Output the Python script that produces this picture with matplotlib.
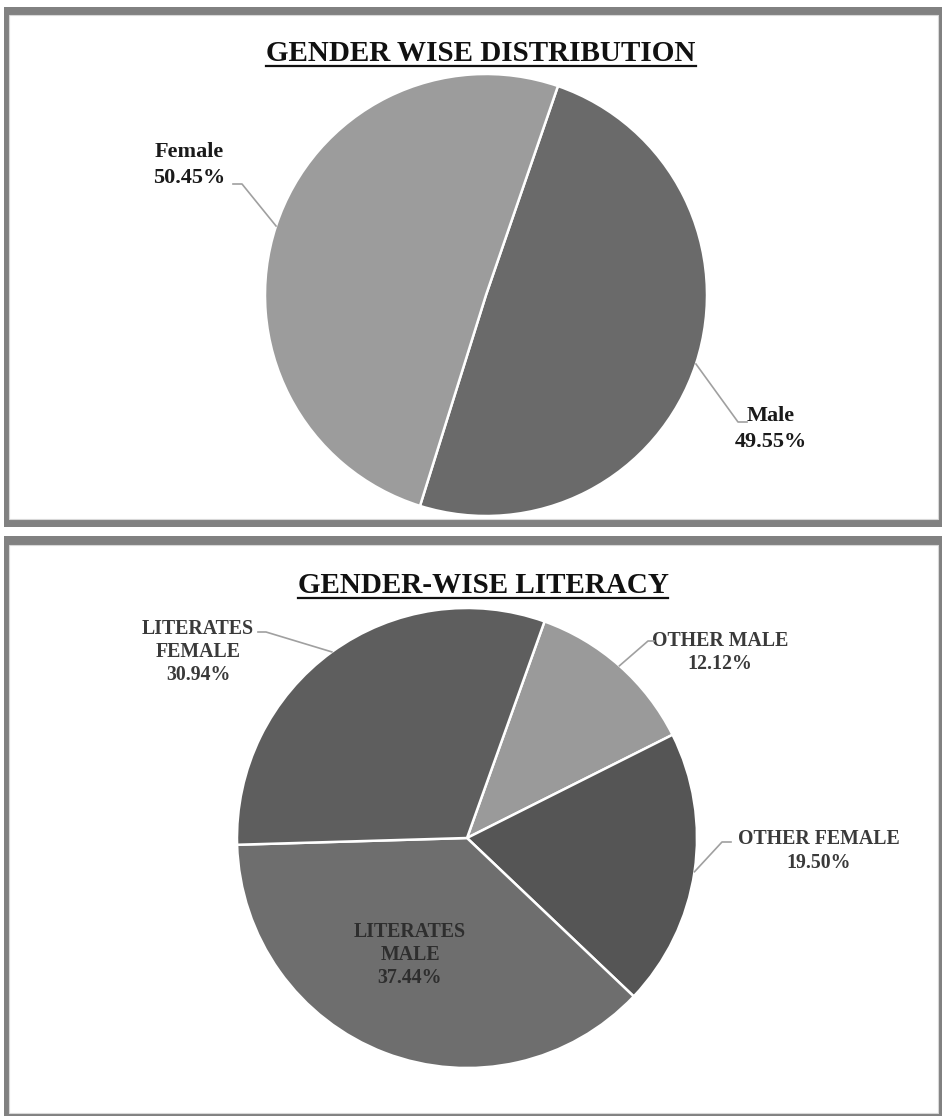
import matplotlib
matplotlib.use("Agg")
import matplotlib.pyplot as plt
import numpy as np
from matplotlib.patches import Rectangle
from matplotlib.lines import Line2D

# ---------------- data ----------------
gender_labels = ["Male", "Female"]
gender_values = [49.55, 50.45]
gender_colors = ["#6a6a6a", "#9c9c9c"]

literacy_labels = ["OTHER\u00a0MALE", "OTHER FEMALE", "LITERATES\nMALE", "LITERATES\nFEMALE"]
literacy_values = [12.12, 19.50, 37.44, 30.94]
literacy_colors = ["#9a9a9a", "#555555", "#6e6e6e", "#5e5e5e"]

title_top = "GENDER WISE DISTRIBUTION"
title_bottom = "GENDER-WISE LITERACY"

# ---------------- figure ----------------
W, H = 942, 1116
DPI = 100
fig = plt.figure(figsize=(W / DPI, H / DPI), dpi=DPI)
fig.patch.set_facecolor("white")
SERIF = ["Liberation Serif", "DejaVu Serif"]


def fx(x):
    return x / W


def fy(y):
    return 1 - y / H


def frame(x0, y0, x1, y1, ix0, iy0, ix1, iy1):
    fig.add_artist(Rectangle((fx(x0), fy(y1)), fx(x1) - fx(x0), fy(y0) - fy(y1),
                             transform=fig.transFigure, facecolor="#818181",
                             edgecolor="none", zorder=-3))
    fig.add_artist(Rectangle((fx(ix0), fy(iy1)), fx(ix1) - fx(ix0), fy(iy0) - fy(iy1),
                             transform=fig.transFigure, facecolor="white",
                             edgecolor="#d8d8d8", linewidth=0.8, zorder=-2))


frame(4, 7, 950, 527, 9, 15, 938, 519)
frame(4, 536, 950, 1125, 9, 545, 938, 1113)


def make_pie_axes(cx, cy, r):
    ax = fig.add_axes([fx(cx - r), fy(cy + r), 2 * r / W, 2 * r / H])
    ax.set_axis_off()
    ax.patch.set_visible(False)
    return ax


def to_data(px, py, cx, cy, r):
    return (px - cx) / r, (cy - py) / r


def leader(ax, wedge, pts_px, cx, cy, r, color="#a0a0a0"):
    mid = np.deg2rad((wedge.theta1 + wedge.theta2) / 2)
    xs = [np.cos(mid)]
    ys = [np.sin(mid)]
    for px, py in pts_px:
        dx, dy = to_data(px, py, cx, cy, r)
        xs.append(dx)
        ys.append(dy)
    ax.add_line(Line2D(xs, ys, color=color, lw=1.2, clip_on=False, zorder=5))


# ---------------- top pie ----------------
cx1, cy1, r1 = 486, 295, 221
ax1 = make_pie_axes(cx1, cy1, r1)
w1, _ = ax1.pie(gender_values, colors=gender_colors, startangle=71, counterclock=False,
                radius=1, wedgeprops=dict(edgecolor="white", linewidth=1.8))
ax1.set_xlim(-1, 1)
ax1.set_ylim(-1, 1)

top_label_pos = {"Female": (189, 165), "Male": (771, 429)}
top_leader_pts = {"Female": [(242, 184), (233, 184)], "Male": [(738, 422), (747, 422)]}
for w, lab, val in zip(w1, gender_labels, gender_values):
    px, py = top_label_pos[lab]
    dx, dy = to_data(px, py, cx1, cy1, r1)
    ax1.text(dx, dy, f"{lab}\n{val:.2f}%", ha="center", va="center", multialignment="center",
             fontsize=16, fontweight="bold", family=SERIF, color="#1a1a1a",
             linespacing=1.4, clip_on=False)
    leader(ax1, w, top_leader_pts[lab], cx1, cy1, r1)

# ---------------- bottom pie ----------------
cx2, cy2, r2 = 467, 838, 230
ax2 = make_pie_axes(cx2, cy2, r2)
w2, _ = ax2.pie(literacy_values, colors=literacy_colors, startangle=70.3, counterclock=False,
                radius=1, wedgeprops=dict(edgecolor="white", linewidth=1.8))
ax2.set_xlim(-1, 1)
ax2.set_ylim(-1, 1)

bot_label_pos = [(720, 652), (819, 851), (410, 955), (198, 652)]
bot_leader_pts = [[(648, 641), (654, 641)], [(722, 842), (731, 842)], None,
                  [(266, 632), (258, 632)]]
for w, lab, val, pos, pts in zip(w2, literacy_labels, literacy_values, bot_label_pos, bot_leader_pts):
    dx, dy = to_data(pos[0], pos[1], cx2, cy2, r2)
    ax2.text(dx, dy, f"{lab}\n{val:.2f}%", ha="center", va="center", multialignment="center",
             fontsize=14.3, fontweight="bold", family=SERIF,
             color="#2e2e2e" if pts is None else "#3a3a3a",
             linespacing=1.2, clip_on=False)
    if pts is not None:
        leader(ax2, w, pts, cx2, cy2, r2)

# ---------------- titles ----------------
t1 = fig.text(fx(481), fy(61), title_top, ha="center", va="baseline", fontsize=21,
              fontweight="bold", family=SERIF, color="#111111")
t2 = fig.text(fx(483), fy(593), title_bottom, ha="center", va="baseline", fontsize=21,
              fontweight="bold", family=SERIF, color="#111111")

fig.canvas.draw()
renderer = fig.canvas.get_renderer()
for t, base in ((t1, 61), (t2, 593)):
    bb = t.get_window_extent(renderer)
    yline = fy(base + 5)
    fig.add_artist(Line2D([bb.x0 / W, bb.x1 / W], [yline, yline], transform=fig.transFigure,
                          color="#111111", lw=1.6))

fig.savefig("out.png", dpi=DPI, facecolor="white")
